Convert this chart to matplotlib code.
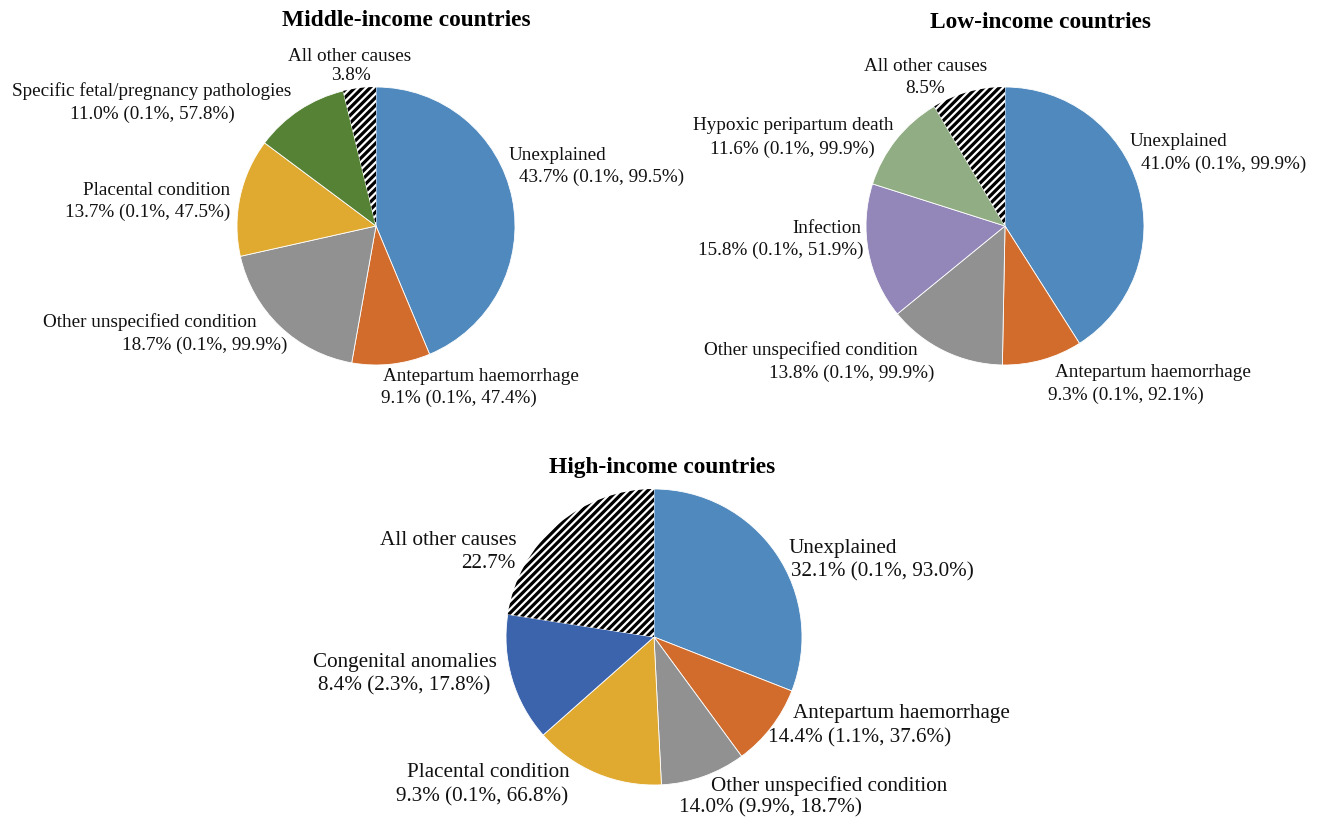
import matplotlib.pyplot as plt
import numpy as np
from matplotlib.collections import LineCollection

plt.rcParams['font.family'] = ['Liberation Serif', 'DejaVu Serif']

# ---- data (percent shares, clockwise from 12 o'clock) ----
mid_causes = ["Unexplained", "Antepartum haemorrhage", "Other unspecified condition",
              "Placental condition", "Specific fetal/pregnancy pathologies", "All other causes"]
mid_share = [43.7, 9.1, 18.7, 13.7, 11.0, 3.8]
mid_lo = [0.1, 0.1, 0.1, 0.1, 0.1, None]
mid_hi = [99.5, 47.4, 99.9, 47.5, 57.8, None]

low_causes = ["Unexplained", "Antepartum haemorrhage", "Other unspecified condition",
              "Infection", "Hypoxic peripartum death", "All other causes"]
low_share = [41.0, 9.3, 13.8, 15.8, 11.6, 8.5]
low_lo = [0.1, 0.1, 0.1, 0.1, 0.1, None]
low_hi = [99.9, 92.1, 99.9, 51.9, 99.9, None]

high_causes = ["Unexplained", "Antepartum haemorrhage", "Other unspecified condition",
               "Placental condition", "Congenital anomalies", "All other causes"]
high_share = [32.1, 14.4, 14.0, 9.3, 8.4, 22.7]
high_lo = [0.1, 1.1, 9.9, 0.1, 2.3, None]
high_hi = [93.0, 37.6, 18.7, 66.8, 17.8, None]
# wedge sizes as drawn in the source figure (they differ from the printed labels)
high_wedge = [31.0, 9.0, 9.3, 14.3, 14.0, 22.6]

colors = {
    "Unexplained": "#4f89bd",
    "Antepartum haemorrhage": "#d26c2c",
    "Other unspecified condition": "#919191",
    "Placental condition": "#e0a92f",
    "Specific fetal/pregnancy pathologies": "#558234",
    "Infection": "#9386b8",
    "Hypoxic peripartum death": "#91ad83",
    "Congenital anomalies": "#3c64ad",
}

W, H = 1319, 821
fig = plt.figure(figsize=(W / 100, H / 100), dpi=100)


def label_lines(cause, val, lo, hi):
    if lo is None:
        return cause, f"{val:.1f}%"
    return cause, f"{val:.1f}% ({lo:.1f}%, {hi:.1f}%)"


def stripes(ax, wedge, r):
    # diagonal black stripes (like Excel's wide upward diagonal), clipped to the wedge
    step = 5.4 / r  # perpendicular spacing in data units
    segs = []
    for k in np.arange(-1.6, 1.6, step * np.sqrt(2)):
        segs.append([(-1.2, -1.2 + k), (1.2, 1.2 + k)])
    lc = LineCollection(segs, colors="black", linewidths=2.3, zorder=3)
    ax.add_collection(lc)
    lc.set_clip_path(wedge)


def draw_pie(cx, cy, r, title, title_xy, causes, share, lo, hi, label_pos, fs, wedge=None):
    # axes placed so that the unit circle lands on (cx, cy) with radius r (pixels)
    ax = fig.add_axes([(cx - 3 * r) / W, 1 - (cy + 3 * r) / H, 6 * r / W, 6 * r / H])
    sizes = wedge if wedge is not None else share
    cols = [colors.get(c, "white") for c in causes]
    wedges, _ = ax.pie(sizes, colors=cols, startangle=90, counterclock=False,
                       radius=1, wedgeprops=dict(edgecolor="white", linewidth=0.6))
    ax.set_xlim(-3, 3)
    ax.set_ylim(-3, 3)
    ax.axis('off')
    for w, c in zip(wedges, causes):
        if c == "All other causes":
            w.set_facecolor("white")
            w.set_linewidth(0)
            stripes(ax, w, r)
    for c, v, l, h, pos in zip(causes, share, lo, hi, label_pos):
        lines = label_lines(c, v, l, h)
        for txt, (px, py) in zip(lines, pos):
            ax.text((px - cx) / r, (cy - py) / r, txt, ha="center", va="center",
                    fontsize=fs, color="#111111", clip_on=False)
    fig.text(title_xy[0] / W, 1 - title_xy[1] / H, title, ha="center", va="center",
             fontsize=16.8, fontweight="bold")


# label line centres in pixels (layout only)
mid_pos = [
    [(557, 155), (602, 177)],
    [(481, 376), (459, 398)],
    [(150, 322), (205, 345)],
    [(157, 190), (148, 212)],
    [(152, 91), (152, 114)],
    [(350, 56), (351, 75)],
]
low_pos = [
    [(1178, 141), (1224, 164)],
    [(1153, 372), (1126, 395)],
    [(811, 350), (852, 373)],
    [(827, 228), (781, 250)],
    [(793, 125), (792, 149)],
    [(926, 66), (925, 88)],
]
high_pos = [
    [(843, 548), (882, 572)],
    [(901, 713), (860, 738)],
    [(829, 786), (770, 808)],
    [(488, 772), (482, 797)],
    [(405, 662), (404, 686)],
    [(448, 540), (488, 563)],
]

draw_pie(376, 226, 139, "Middle-income countries", (406, 20),
         mid_causes, mid_share, mid_lo, mid_hi, mid_pos, 13.8)
draw_pie(1005, 226, 139, "Low-income countries", (1041, 22),
         low_causes, low_share, low_lo, low_hi, low_pos, 13.8)
draw_pie(654, 637, 148, "High-income countries", (662, 467),
         high_causes, high_share, high_lo, high_hi, high_pos, 15.2, wedge=high_wedge)

fig.savefig("out.png", dpi=100, facecolor="white")
